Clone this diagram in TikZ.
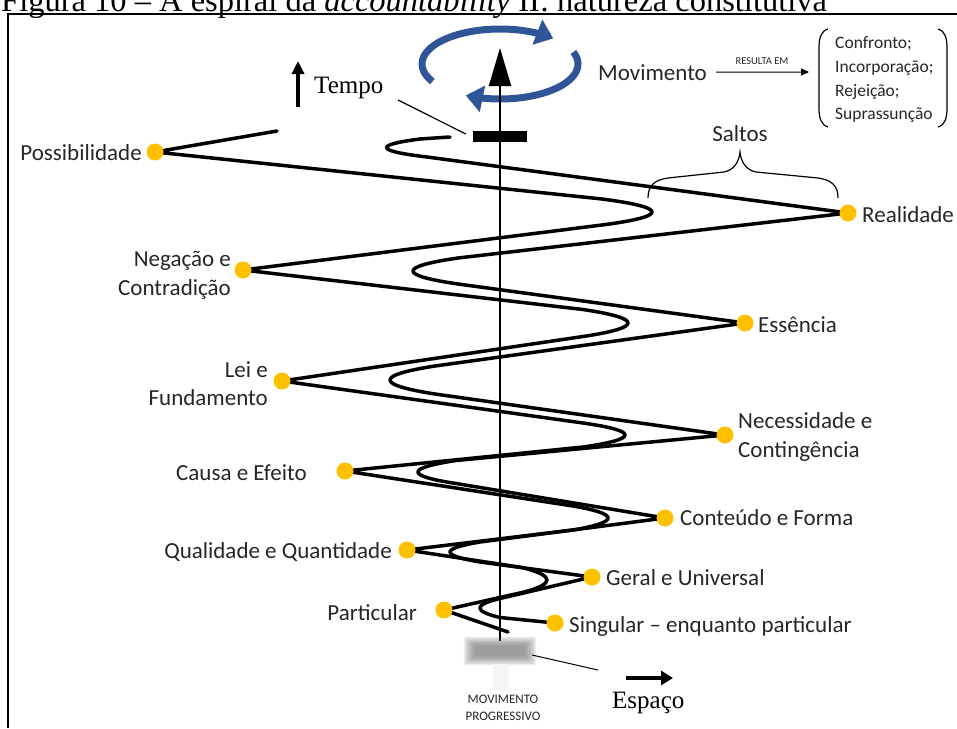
\documentclass[tikz,border=0pt]{standalone}
\usepackage{fontspec}
\setmainfont{Liberation Serif}
\newfontfamily\labelfont{Carlito}
\usetikzlibrary{arrows.meta,calc}
\definecolor{dotgold}{RGB}{255,192,0}
\definecolor{turnblue}{RGB}{47,85,151}
\begin{document}
\begin{tikzpicture}[x=1pt,y=-1pt,
  strand/.style={line width=3.5pt,line cap=round,line join=round},
  dot/.style={circle,fill=dotgold,inner sep=0pt,minimum size=17pt},
  lbl/.style={font=\labelfont\fontsize{23}{28}\selectfont,inner sep=0pt,text=black!85},
  boxtxt/.style={font=\labelfont\fontsize{17.5}{21}\selectfont,inner sep=0pt,anchor=base west,text=black!85},
  smallcaps/.style={font=\labelfont\fontsize{10.5}{12}\selectfont,inner sep=0pt,text=black!85},
  serif/.style={font=\fontsize{25}{30}\selectfont,inner sep=0pt},
  fine/.style={line width=1.2pt},
  turn/.style={line width=7pt,turnblue,-{Triangle[length=17pt,width=26pt]}},
]
\useasboundingbox (0,0) rectangle (957,728);
\clip (0,0) rectangle (957,728);

% caption line and frame
\node[anchor=base west,inner sep=0pt,font=\fontsize{32.5}{36}\selectfont] (caption) at (1,12)
  {Figura 10 – A espiral da \textit{accountability} II: natureza constitutiva};
\draw[line width=2pt] (8,728) -- (8,14) -- (960,14);

% turning points of the two strands
\coordinate (pPos) at (155,152);
\coordinate (pNeg) at (243,270);
\coordinate (pLei) at (282,381);
\coordinate (pCau) at (345,471);
\coordinate (pQua) at (407,550);
\coordinate (pPar) at (444,610);
\coordinate (pRea) at (848,213);
\coordinate (pEss) at (745,323);
\coordinate (pNec) at (725,435);
\coordinate (pCon) at (665,518);
\coordinate (pGer) at (592,577);
\coordinate (pSin) at (555,623);

\coordinate (ls0) at (277,131);
\coordinate (lt1) at (652,212);
\coordinate (lt2) at (628,323);
\coordinate (lt3) at (625,435);
\coordinate (lt4) at (608,518);
\coordinate (lt5) at (547,580);
\coordinate (ls1) at (508,632);

\coordinate (rs0) at (450,137);
\coordinate (rt1) at (387,148);
\coordinate (rt2) at (413,271);
\coordinate (rt3) at (390,380);
\coordinate (rt4) at (418,472);
\coordinate (rt5) at (450,552);
\coordinate (rt6) at (480,608);

% rotation arrows
\draw[turn] plot[domain=210:47,samples=50,variable=\t] ({500+78*cos(\t)},{64-35*sin(\t)});
\draw[turn] plot[domain=20:-116,samples=50,variable=\t] ({500+78*cos(\t)},{64-35*sin(\t)});

% time axis
\coordinate (axbot) at (500,641);
\coordinate (axtop) at (500,48);
\draw[line width=2pt,-{Triangle[length=38pt,width=22pt]}] (axbot) -- (axtop);

% left strand
\draw[strand] (ls0) -- (pPos)
  -- ($(lt1)+(-50,-13)$) .. controls ($(lt1)+(16.7,-4.3)$) and ($(lt1)+(16.7,4.3)$) .. ($(lt1)+(-50,13)$)
  -- (pNeg)
  -- ($(lt2)+(-45,-13.5)$) .. controls ($(lt2)+(15,-4.5)$) and ($(lt2)+(15,4.5)$) .. ($(lt2)+(-45,13.5)$)
  -- (pLei)
  -- ($(lt3)+(-42,-12)$) .. controls ($(lt3)+(14,-4)$) and ($(lt3)+(14,4)$) .. ($(lt3)+(-42,12)$)
  -- (pCau)
  -- ($(lt4)+(-35,-12)$) .. controls ($(lt4)+(11.7,-4)$) and ($(lt4)+(11.7,4)$) .. ($(lt4)+(-35,12)$)
  -- (pQua)
  -- ($(lt5)+(-25,-12.5)$) .. controls ($(lt5)+(8.3,-4.2)$) and ($(lt5)+(8.3,4.2)$) .. ($(lt5)+(-25,12.5)$)
  -- (pPar) -- (ls1);

% right strand
\draw[strand] (rs0)
  -- ($(rt1)+(33,-9)$) .. controls ($(rt1)+(-13.7,-3)$) and ($(rt1)+(-11.3,3)$) .. ($(rt1)+(40,9)$)
  -- (pRea)
  -- ($(rt2)+(45,-13)$) .. controls ($(rt2)+(-15,-4.3)$) and ($(rt2)+(-15,4.3)$) .. ($(rt2)+(45,13)$)
  -- (pEss)
  -- ($(rt3)+(45,-14)$) .. controls ($(rt3)+(-15,-4.7)$) and ($(rt3)+(-15,4.7)$) .. ($(rt3)+(45,14)$)
  -- (pNec)
  -- ($(rt4)+(38,-11.5)$) .. controls ($(rt4)+(-12.7,-3.8)$) and ($(rt4)+(-12.7,3.8)$) .. ($(rt4)+(38,11.5)$)
  -- (pCon)
  -- ($(rt5)+(30,-10)$) .. controls ($(rt5)+(-10,-3.3)$) and ($(rt5)+(-10,3.3)$) .. ($(rt5)+(30,10)$)
  -- (pGer)
  -- ($(rt6)+(20,-9.5)$) .. controls ($(rt6)+(-6.7,-3.2)$) and ($(rt6)+(-6.7,3.2)$) .. ($(rt6)+(20,9.5)$)
  -- (pSin);

% category dots
\node[dot] (dPos) at (pPos) {};
\node[dot] (dNeg) at (pNeg) {};
\node[dot] (dLei) at (pLei) {};
\node[dot] (dCau) at (pCau) {};
\node[dot] (dQua) at (pQua) {};
\node[dot] (dPar) at (pPar) {};
\node[dot] (dRea) at (pRea) {};
\node[dot] (dEss) at (pEss) {};
\node[dot] (dNec) at (pNec) {};
\node[dot] (dCon) at (pCon) {};
\node[dot] (dGer) at (pGer) {};
\node[dot] (dSin) at (pSin) {};

% category labels
\node[lbl,anchor=base east] (tPos) at (142,160) {Possibilidade};
\node[lbl,anchor=base east] (tNeg1) at (231,266) {Negação e};
\node[lbl,anchor=base east] (tNeg2) at (231,295) {Contradição};
\node[lbl,anchor=base east] (tLei1) at (268,377) {Lei e};
\node[lbl,anchor=base east] (tLei2) at (268,405) {Fundamento};
\node[lbl,anchor=base west] (tCau) at (176,480) {Causa e Efeito};
\node[lbl,anchor=base east] (tQua) at (392,558) {Qualidade e Quantidade};
\node[lbl,anchor=base east] (tPar) at (417,620) {Particular};
\node[lbl,anchor=base west] (tRea) at (862,222) {Realidade};
\node[lbl,anchor=base west] (tEss) at (758,332) {Essência};
\node[lbl,anchor=base west] (tNec1) at (738,428) {Necessidade e};
\node[lbl,anchor=base west] (tNec2) at (738,457) {Contingência};
\node[lbl,anchor=base west] (tCon) at (680,525) {Conteúdo e Forma};
\node[lbl,anchor=base west] (tGer) at (606,585) {Geral e Universal};
\node[lbl,anchor=base west] (tSin) at (569,632) {Singular – enquanto particular};

% jumps
\node[lbl] (saltos) at (740,134) {Saltos};
\draw[fine] (648,198) .. controls (648,186) and (654,180) .. (668,178)
  -- (724,172) .. controls (734,170) and (739,162) .. (740,152)
  .. controls (741,162) and (746,170) .. (756,172)
  -- (818,178) .. controls (832,180) and (838,186) .. (838,198);

% time marker
\node[fill=black,inner sep=0pt,minimum width=54pt,minimum height=11pt] (tbar) at (500,136) {};
\draw[line width=4pt,-{Triangle[length=13pt,width=12pt]}] (298,107) -- (298,61);
\node[serif,anchor=base west] (tempo) at (314,93) {Tempo};
\coordinate (tpin) at (398,100);
\draw[fine] (tpin) -- ($(tbar.west)+(-7,-2)$);

% movement and its results
\node[lbl,anchor=base west] (mov) at (598,80) {Movimento};
\coordinate (resend) at (809,72);
\draw[line width=1pt,-{Triangle[length=8pt,width=7pt]}] ($(mov.east)+(9,0)$) -- (resend);
\node[smallcaps,anchor=base] (resulta) at (762,64) {RESULTA EM};
\draw[fine] (828,29) .. controls (821,31) and (819,38) .. (819,48)
  -- (819,108) .. controls (819,118) and (821,125) .. (828,127);
\draw[fine] (938,29) .. controls (945,31) and (947,38) .. (947,48)
  -- (947,108) .. controls (947,118) and (945,125) .. (938,127);
\node[boxtxt] (r1) at (835,48) {Confronto;};
\node[boxtxt] (r2) at (835,72) {Incorporação;};
\node[boxtxt] (r3) at (835,96) {Rejeição;};
\node[boxtxt] (r4) at (835,119) {Suprassunção};

% progressive movement marker, a soft grey patch
\foreach \g in {0,1,...,7}{
  \fill[black!55,opacity=0.14,rounded corners=2pt]
    ($(500,651)+(-25-1.6*\g,-5-1.3*\g)$) rectangle ($(500,651)+(25+1.6*\g,5+1.3*\g)$);
}
\coordinate (blur) at (500,651);
\fill[gray!8] (493,664) rectangle (509,690);
\draw[line width=1pt] ($(blur)+(32,4)$) -- (598,670);
\node[font=\labelfont\fontsize{13}{15}\selectfont,inner sep=0pt,anchor=base,text=black!85] (mp1) at (503,703) {MOVIMENTO};
\node[font=\labelfont\fontsize{13}{15}\selectfont,inner sep=0pt,anchor=base,text=black!85] (mp2) at (503,720) {PROGRESSIVO};

% space
\draw[line width=4.5pt,-{Triangle[length=12pt,width=14pt]}] (626,678) -- (673,678);
\node[serif,anchor=base west] (espaco) at (612,708) {Espaço};
\end{tikzpicture}
\end{document}
